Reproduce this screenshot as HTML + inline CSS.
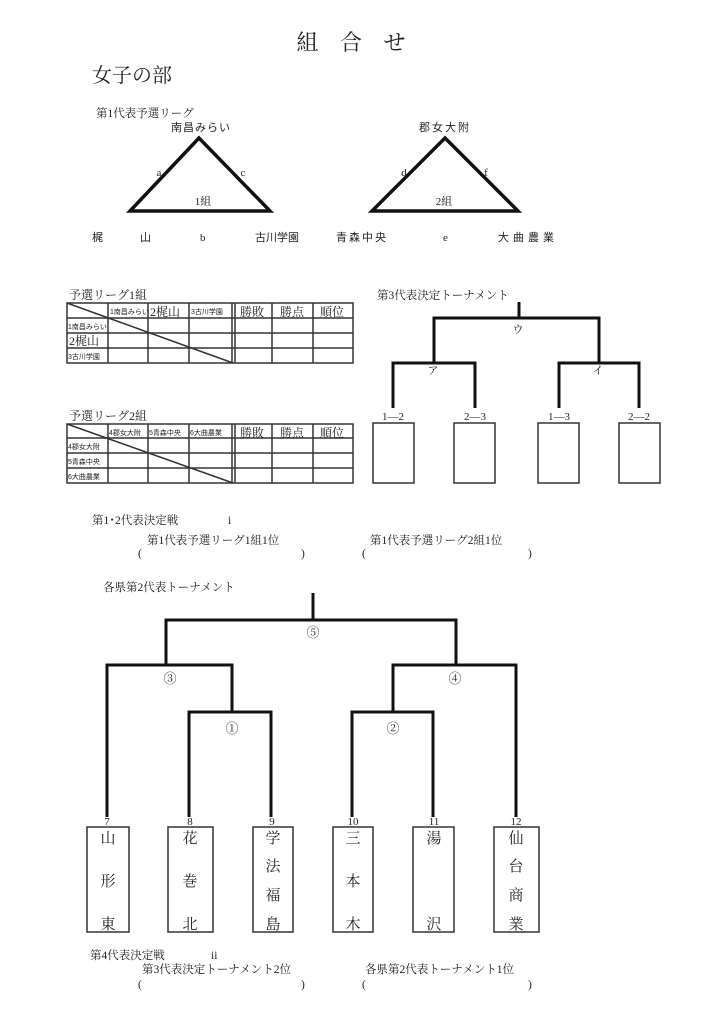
<!DOCTYPE html>
<html><head><meta charset="utf-8"><style>
html,body{margin:0;padding:0;background:#fff;}
svg{display:block;}
text{font-family:"Liberation Serif","Noto Serif CJK SC",serif;fill:#222;}
.s{font-family:"Liberation Sans","Noto Sans CJK JP",sans-serif;}
</style></head><body>
<svg width="724" height="1024" viewBox="0 0 724 1024" xmlns="http://www.w3.org/2000/svg">
<text x="355" y="50" font-size="22" text-anchor="middle" letter-spacing="8">組 合 せ</text>
<text x="92" y="82" font-size="20">女子の部</text>
<text x="96" y="117" font-size="11.5">第1代表予選リーグ</text>

<g stroke="#111" stroke-width="3.5" fill="none" stroke-linejoin="miter">
<polygon points="199,138 130,211 270,211"/>
<polygon points="445,138 372,211 518,211"/>
</g>
<g font-size="11">
<text x="201" y="131" text-anchor="middle" class="s" letter-spacing="1">南昌みらい</text>
<text x="445" y="131" text-anchor="middle" class="s" letter-spacing="2">郡女大附</text>
<text x="159" y="176" text-anchor="middle">a</text>
<text x="243" y="176" text-anchor="middle">c</text>
<text x="203" y="205" text-anchor="middle">1組</text>
<text x="404" y="176" text-anchor="middle">d</text>
<text x="486" y="176" text-anchor="middle">f</text>
<text x="444" y="205" text-anchor="middle">2組</text>
<text x="92" y="241" class="s">梶</text>
<text x="140" y="241" class="s">山</text>
<text x="200" y="241">b</text>
<text x="255" y="241" class="s">古川学園</text>
<text x="336" y="241" class="s" letter-spacing="2">青森中央</text>
<text x="443" y="241">e</text>
<text x="498" y="241" class="s" letter-spacing="4">大曲農業</text>
</g>

<!-- Table 1 -->
<text x="69" y="299" font-size="12">予選リーグ1組</text>
<g stroke="#333" stroke-width="1.5" fill="none">
<rect x="67" y="303" width="286" height="60"/>
<line x1="67" y1="318" x2="353" y2="318"/><line x1="67" y1="333" x2="353" y2="333"/><line x1="67" y1="348" x2="353" y2="348"/>
<line x1="108" y1="303" x2="108" y2="363"/><line x1="148" y1="303" x2="148" y2="363"/><line x1="189" y1="303" x2="189" y2="363"/>
<line x1="232" y1="303" x2="232" y2="363"/><line x1="235" y1="303" x2="235" y2="363"/>
<line x1="272" y1="303" x2="272" y2="363"/><line x1="313" y1="303" x2="313" y2="363"/>
<line x1="67" y1="303" x2="233" y2="363"/>
</g>
<g font-size="7" class="s">
<text x="110" y="314" class="s">1南昌みらい</text>
<text x="150" y="316" font-size="12">2梶山</text>
<text x="191" y="314" class="s">3古川学園</text>
<text x="68" y="329" class="s">1南昌みらい</text>
<text x="69" y="345" font-size="12">2梶山</text>
<text x="68" y="359" class="s">3古川学園</text>
</g>
<g font-size="12"><text x="240" y="316">勝敗</text><text x="280" y="316">勝点</text><text x="320" y="316">順位</text></g>

<!-- Table 2 -->
<text x="69" y="420" font-size="12">予選リーグ2組</text>
<g stroke="#333" stroke-width="1.5" fill="none">
<rect x="67" y="424" width="286" height="59"/>
<line x1="67" y1="438" x2="353" y2="438"/><line x1="67" y1="453" x2="353" y2="453"/><line x1="67" y1="468" x2="353" y2="468"/>
<line x1="108" y1="424" x2="108" y2="483"/><line x1="148" y1="424" x2="148" y2="483"/><line x1="189" y1="424" x2="189" y2="483"/>
<line x1="232" y1="424" x2="232" y2="483"/><line x1="235" y1="424" x2="235" y2="483"/>
<line x1="272" y1="424" x2="272" y2="483"/><line x1="313" y1="424" x2="313" y2="483"/>
<line x1="67" y1="424" x2="233" y2="483"/>
</g>
<g font-size="7">
<text x="109" y="435" class="s">4郡女大附</text>
<text x="149" y="435" class="s">5青森中央</text>
<text x="190" y="435" class="s">6大曲農業</text>
<text x="68" y="449" class="s">4郡女大附</text>
<text x="68" y="464" class="s">5青森中央</text>
<text x="68" y="479" class="s">6大曲農業</text>
</g>
<g font-size="12"><text x="240" y="437">勝敗</text><text x="280" y="437">勝点</text><text x="320" y="437">順位</text></g>

<!-- 3rd tournament -->
<text x="377" y="299" font-size="11.5">第3代表決定トーナメント</text>
<g stroke="#111" stroke-width="3" fill="none">
<polyline points="519,302 519,318"/>
<polyline points="434,363 434,318 599,318 599,363"/>
<polyline points="393,408 393,363 475,363 475,408"/>
<polyline points="559,408 559,363 639,363 639,408"/>
</g>
<g font-size="11" text-anchor="middle">
<text x="518" y="333">ウ</text><text x="433" y="374">ア</text><text x="598" y="374">イ</text>
<text x="393" y="420">1—2</text><text x="475" y="420">2—3</text><text x="559" y="420">1—3</text><text x="639" y="420">2—2</text>
</g>
<g stroke="#333" stroke-width="1.5" fill="none">
<rect x="373" y="423" width="41" height="60"/><rect x="454" y="423" width="41" height="60"/>
<rect x="538" y="423" width="41" height="60"/><rect x="619" y="423" width="41" height="60"/>
</g>

<g font-size="11.5">
<text x="92" y="524">第1･2代表決定戦</text><text x="228" y="524">i</text>
<text x="147" y="544">第1代表予選リーグ1組1位</text>
<text x="370" y="544">第1代表予選リーグ2組1位</text>
<text x="138" y="557">(</text><text x="301" y="557">)</text>
<text x="362" y="557">(</text><text x="528" y="557">)</text>
<text x="103" y="591">各県第2代表トーナメント</text>
</g>

<!-- big bracket -->
<g stroke="#111" stroke-width="3" fill="none">
<polyline points="313,593 313,620"/>
<polyline points="166,665 166,620 456,620 456,665"/>
<polyline points="107,817 107,665 232,665 232,712"/>
<polyline points="189,817 189,712 271,712 271,817"/>
<polyline points="393,712 393,665 516,665 516,817"/>
<polyline points="352,817 352,712 433,712 433,817"/>
</g>
<g font-size="13" text-anchor="middle">
<text x="313" y="637">⑤</text><text x="170" y="683">③</text><text x="455" y="683">④</text>
<text x="232" y="733">①</text><text x="393" y="733">②</text>
</g>
<g font-size="11" text-anchor="middle">
<text x="107" y="825">7</text><text x="190" y="825">8</text><text x="272" y="825">9</text>
<text x="353" y="825">10</text><text x="434" y="825">11</text><text x="516" y="825">12</text>
</g>
<g stroke="#333" stroke-width="1.5" fill="none">
<rect x="87" y="827" width="42" height="105"/><rect x="168" y="827" width="45" height="105"/>
<rect x="253" y="827" width="40" height="105"/><rect x="333" y="827" width="40" height="105"/>
<rect x="413" y="827" width="41" height="105"/><rect x="494" y="827" width="45" height="105"/>
</g>
<g font-size="15" text-anchor="middle">
<text x="108" y="843">山</text><text x="108" y="886">形</text><text x="108" y="929">東</text>
<text x="190" y="843">花</text><text x="190" y="886">巻</text><text x="190" y="929">北</text>
<text x="273" y="843">学</text><text x="273" y="871">法</text><text x="273" y="900">福</text><text x="273" y="929">島</text>
<text x="353" y="843">三</text><text x="353" y="886">本</text><text x="353" y="929">木</text>
<text x="434" y="843">湯</text><text x="434" y="929">沢</text>
<text x="516" y="843">仙</text><text x="516" y="871">台</text><text x="516" y="900">商</text><text x="516" y="929">業</text>
</g>

<g font-size="11.5">
<text x="90" y="959">第4代表決定戦</text><text x="211" y="959">ii</text>
<text x="142" y="973">第3代表決定トーナメント2位</text>
<text x="365" y="973">各県第2代表トーナメント1位</text>
<text x="138" y="988">(</text><text x="301" y="988">)</text>
<text x="362" y="988">(</text><text x="528" y="988">)</text>
</g>
</svg>
</body></html>
